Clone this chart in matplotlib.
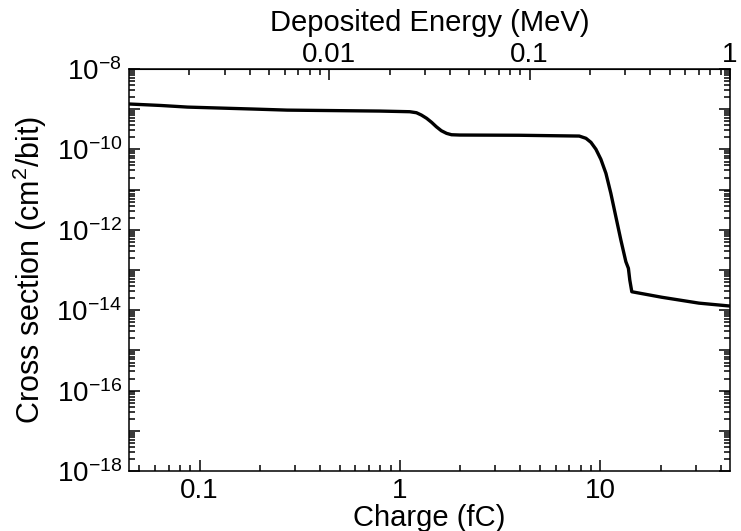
import math
import matplotlib
matplotlib.use("Agg")
import matplotlib.pyplot as plt
from matplotlib.ticker import LogLocator, FuncFormatter, NullFormatter

plt.rcParams['font.family'] = ['Liberation Sans', 'DejaVu Sans']
plt.rcParams['mathtext.fontset'] = 'custom'
plt.rcParams['mathtext.rm'] = 'Liberation Sans'
plt.rcParams['mathtext.it'] = 'Liberation Sans:italic'
plt.rcParams['axes.unicode_minus'] = False

# charge (fC) vs cross section (cm^2/bit)
charge = [0.0444, 0.064, 0.0871, 0.186, 0.274, 0.795, 1.12, 1.21, 1.28, 1.36,
          1.44, 1.52, 1.61, 1.71, 1.81, 1.99, 3.95, 7.86, 8.49, 8.99,
          9.52, 10.08, 10.68, 11.30, 11.97, 12.68, 13.43, 13.83, 14.05, 14.38,
          20.3, 31.1, 44.4]
xsec = [1.35e-9, 1.24e-9, 1.13e-9, 1.01e-9, 9.5e-10, 9.0e-10, 8.67e-10, 8.18e-10,
        7.17e-10, 5.94e-10, 4.72e-10, 3.67e-10, 2.92e-10, 2.51e-10, 2.32e-10,
        2.28e-10, 2.25e-10, 2.15e-10, 1.89e-10, 1.50e-10, 1.01e-10, 5.67e-11,
        2.54e-11, 8.09e-12, 2.12e-12, 5.57e-13, 1.61e-13, 1.10e-13, 5.64e-14,
        2.88e-14, 2.1e-14, 1.5e-14, 1.27e-14]

FC_PER_MEV = 44.4  # 3.6 eV per e-h pair in silicon

xticks = [0.1, 1, 10]
xticklabels = ['0.1', '1', '10']
eticks = [0.01, 0.1, 1]
eticklabels = ['0.01', '0.1', '1']

FS = 20


def ylab(v, pos):
    e = int(round(math.log10(v)))
    if e % 2 == 0:
        return r'$10^{%d}$' % e
    return ''


fig = plt.figure(figsize=(7.41, 5.31), dpi=100)
ax = fig.add_axes([0.174, 0.113, 0.811, 0.757])
ax.plot(charge, xsec, color='black', lw=2.4)
ax.set_xscale('log')
ax.set_yscale('log')
ax.set_xlim(0.0444, 44.4)
ax.set_ylim(1e-18, 1e-8)

ax.set_xticks(xticks)
ax.set_xticklabels(xticklabels)
ax.xaxis.set_minor_locator(LogLocator(base=10, subs=range(2, 10), numticks=20))
ax.xaxis.set_minor_formatter(NullFormatter())
ax.yaxis.set_major_locator(LogLocator(base=10, numticks=20))
ax.yaxis.set_major_formatter(FuncFormatter(ylab))
ax.yaxis.set_minor_locator(LogLocator(base=10, subs=range(2, 10), numticks=20))
ax.yaxis.set_minor_formatter(NullFormatter())

ax.tick_params(which='both', direction='in', labelsize=FS, width=1.1)
ax.tick_params(axis='x', which='both', top=False)
ax.tick_params(axis='y', which='both', right=True)
ax.tick_params(which='major', length=8)
ax.tick_params(which='minor', length=4)
ax.tick_params(axis='x', pad=5)
ax.tick_params(axis='y', pad=5)
for s in ax.spines.values():
    s.set_linewidth(1.1)

ax.set_xlabel('Charge (fC)', fontsize=21, labelpad=0)
ax.set_ylabel('Cross section (cm$^2$/bit)', fontsize=22, labelpad=5)

top = ax.secondary_xaxis('top', functions=(lambda q: q / FC_PER_MEV,
                                           lambda e: e * FC_PER_MEV))
top.set_xticks(eticks)
top.set_xticklabels(eticklabels)
top.xaxis.set_minor_locator(LogLocator(base=10, subs=range(2, 10), numticks=20))
top.xaxis.set_minor_formatter(NullFormatter())
top.tick_params(which='both', direction='in', labelsize=FS, width=1.1, pad=1)
top.tick_params(which='major', length=8)
top.tick_params(which='minor', length=4)
top.set_xlabel('Deposited Energy (MeV)', fontsize=21, labelpad=8)

fig.savefig('out.png', dpi=100)
